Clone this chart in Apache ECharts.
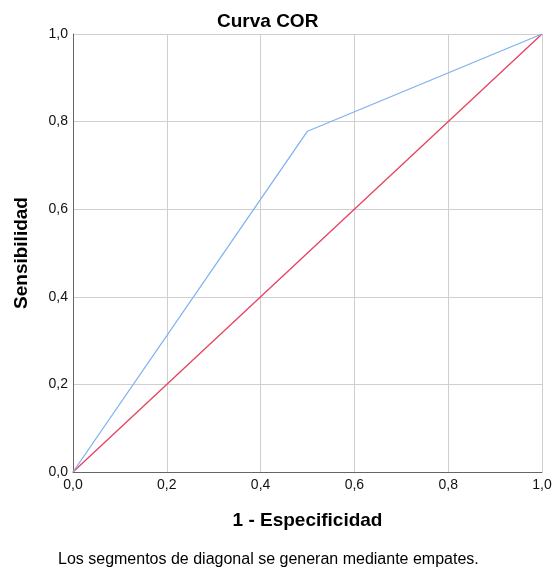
<!DOCTYPE html>
<html><head><meta charset="utf-8">
<script src="https://cdn.jsdelivr.net/npm/echarts@6/dist/echarts.min.js"></script>
<style>html,body{margin:0;padding:0;background:#fff}#c{width:552px;height:568px}</style>
</head><body><div id="c"></div>
<script>
const rocX = [0, 0.5, 1];
const rocY = [0, 0.778, 1];
const diagX = [0, 1];
const diagY = [0, 1];
const fmt = v => v.toFixed(1).replace('.', ',');
const chart = echarts.init(document.getElementById('c'));
chart.setOption({
  animation: false,
  backgroundColor: '#fff',
  title: [{text: 'Curva COR', left: 217, top: 12, padding: 0, textStyle: {fontFamily: 'Liberation Sans', fontSize: 19, fontWeight: 'bold', color: '#000'}},
    {text: 'Los segmentos de diagonal se generan mediante empates.', left: 58, top: 552, padding: 0, textStyle: {fontFamily: 'Liberation Sans', fontSize: 16, fontWeight: 'normal', color: '#000'}}],
  grid: {left: 73, right: 10, top: 34, bottom: 96, outerBoundsMode: 'none', containLabel: false},
  xAxis: {type: 'value', min: 0, max: 1, interval: 0.2,
    name: '1 - Especificidad', nameLocation: 'middle', nameGap: 39,
    nameTextStyle: {fontFamily: 'Liberation Sans', fontSize: 19, fontWeight: 'bold', color: '#000'},
    axisLine: {show: true, lineStyle: {color: '#666', width: 1}}, axisTick: {show: false},
    axisLabel: {formatter: fmt, color: '#111', fontFamily: 'Liberation Sans', fontSize: 14, margin: 6, hideOverlap: false},
    splitLine: {show: true, lineStyle: {color: '#cfcfcf', width: 1}}},
  yAxis: {type: 'value', min: 0, max: 1, interval: 0.2,
    name: 'Sensibilidad', nameLocation: 'middle', nameGap: 42,
    nameTextStyle: {fontFamily: 'Liberation Sans', fontSize: 19, fontWeight: 'bold', color: '#000'},
    axisLine: {show: true, lineStyle: {color: '#666', width: 1}}, axisTick: {show: false},
    axisLabel: {formatter: fmt, color: '#111', fontFamily: 'Liberation Sans', fontSize: 14, margin: 5},
    splitLine: {show: true, lineStyle: {color: '#cfcfcf', width: 1}}},
  series: [
    {type: 'line', data: diagX.map((x, i) => [x, diagY[i]]), showSymbol: false, lineStyle: {color: '#e8405f', width: 1.3}},
    {type: 'line', data: rocX.map((x, i) => [x, rocY[i]]), showSymbol: false, lineStyle: {color: '#82b1ef', width: 1.3}}
  ]
});
</script></body></html>
